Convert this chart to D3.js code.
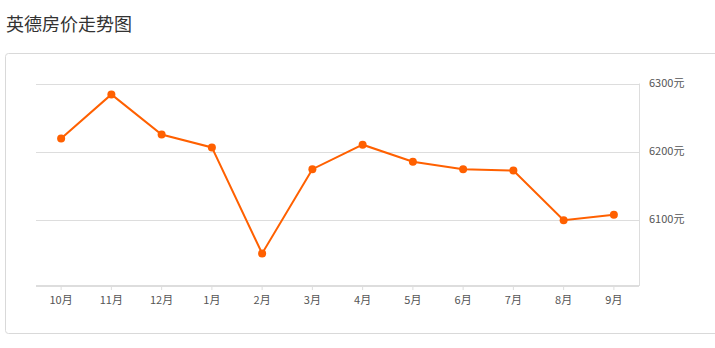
<!DOCTYPE html>
<html><head><meta charset="utf-8">
<script src="https://cdn.jsdelivr.net/npm/d3@7"></script>
<style>
html,body{margin:0;padding:0;background:#fff;}
svg{display:block;font-family:"Noto Sans CJK SC","Noto Sans",sans-serif;}
</style></head>
<body><svg id="c" width="715" height="348"></svg>
<script>
const title = "英德房价走势图";
const months = ["10月","11月","12月","1月","2月","3月","4月","5月","6月","7月","8月","9月"];
const prices = [6219,6284,6225,6206,6050,6174,6210,6185,6174,6172,6099,6107];
const yTicks = [6100,6200,6300];
const unit = "元";

const svg = d3.select("#c");
const plotLeft = 36, plotRight = 639, plotTop = 83.5, plotBottom = 286;

svg.append("text").attr("x",6).attr("y",31).attr("font-size",18).attr("fill","#333").text(title);
svg.append("rect").attr("x",5.5).attr("y",53.5).attr("width",740).attr("height",280)
  .attr("rx",3).attr("fill","#fff").attr("stroke","#d9d9d9");

const x = d3.scaleBand().domain(months).range([plotLeft,plotRight]);
const y = d3.scaleLinear().domain([6100,6300]).range([219.5,plotTop]);

// gridlines
svg.append("g").selectAll("line").data(yTicks).join("line")
  .attr("x1",plotLeft).attr("x2",plotRight).attr("y1",d=>Math.round(y(d))+0.5).attr("y2",d=>Math.round(y(d))+0.5)
  .attr("stroke","#ddd");
// right axis line
svg.append("line").attr("x1",plotRight+0.5).attr("x2",plotRight+0.5).attr("y1",plotTop).attr("y2",plotBottom).attr("stroke","#ddd");
// right labels
svg.append("g").selectAll("text").data(yTicks).join("text")
  .attr("x",649).attr("y",d=>y(d)).attr("dy","0.35em").attr("font-size",11).attr("fill","#555")
  .text(d=>d+unit);

// bottom axis
const xAxis = d3.axisBottom(x).tickSize(4).tickPadding(6);
const gx = svg.append("g").attr("transform",`translate(0,${plotBottom})`).call(xAxis);
gx.select(".domain").attr("stroke","#ddd").attr("stroke-width",2).attr("d",`M${plotLeft},0H${plotRight}`);
gx.selectAll(".tick line").attr("stroke","#ddd");
gx.selectAll(".tick text").attr("font-size",11).attr("fill","#555")
  .attr("font-family",'"Noto Sans CJK SC","Noto Sans",sans-serif');

const cx = d => x(d) + x.bandwidth()/2;
const line = d3.line().x((d,i)=>cx(months[i])).y(d=>y(d));
svg.append("path").datum(prices).attr("d",line).attr("fill","none")
  .attr("stroke","#ff6000").attr("stroke-width",2);
svg.append("g").selectAll("circle").data(prices).join("circle")
  .attr("cx",(d,i)=>cx(months[i])).attr("cy",d=>y(d)).attr("r",4).attr("fill","#ff6000");
</script></body></html>
